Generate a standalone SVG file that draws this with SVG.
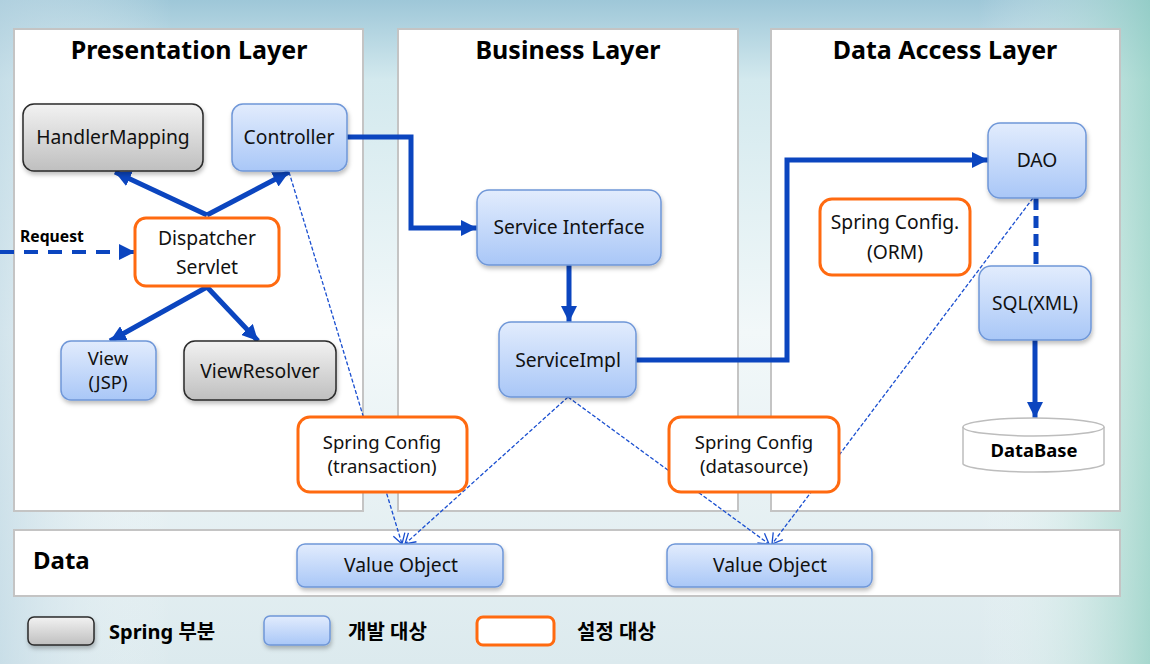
<svg xmlns="http://www.w3.org/2000/svg" width="1150" height="664" viewBox="0 0 1150 664">
<style>
.panel{fill:#fff;stroke:#c4c4c4;stroke-width:2}
.title{font-family:"Noto Sans","Open Sans",sans-serif;font-weight:bold;font-size:25px;fill:#000;text-anchor:middle}
.lbl{font-family:"Noto Sans","Open Sans","Noto Sans CJK KR",sans-serif;font-size:19.3px;fill:#111;text-anchor:middle}
.lbl2{font-family:"Noto Sans","Open Sans","Noto Sans CJK KR",sans-serif;font-size:18.5px;fill:#111;text-anchor:middle}
.blue{fill:url(#gBlue);stroke:#6f97d8;stroke-width:1.5}
.gray{fill:url(#gGray);stroke:#2a2a2a;stroke-width:1.5}
.cfg{fill:#fff;stroke:#ff6a10;stroke-width:3}
.thick{fill:none;stroke:#0b45bf;stroke-width:5}
.thin{fill:none;stroke:#1a4fd0;stroke-width:1.3;stroke-dasharray:4 2}
.bold{font-family:"Noto Sans","Noto Sans CJK KR",sans-serif;font-weight:bold;fill:#000}
</style>
<defs>
<linearGradient id="bg" x1="0" y1="0" x2="0" y2="1">
<stop offset="0" stop-color="#9ec7d8"/>
<stop offset="0.12" stop-color="#d3e9ee"/>
<stop offset="0.5" stop-color="#f2f8f9"/>
<stop offset="1" stop-color="#dceaee"/>
</linearGradient>
<linearGradient id="bgR" x1="0" y1="0" x2="1" y2="0">
<stop offset="0" stop-color="#bcd6e3" stop-opacity="0.6"/>
<stop offset="0.15" stop-color="#ffffff" stop-opacity="0"/>
<stop offset="0.85" stop-color="#ffffff" stop-opacity="0"/>
<stop offset="1" stop-color="#8fcfc0" stop-opacity="0.7"/>
</linearGradient>
<linearGradient id="gBlue" x1="0" y1="0" x2="0" y2="1">
<stop offset="0" stop-color="#e2ecfd"/>
<stop offset="1" stop-color="#a9c7f7"/>
</linearGradient>
<linearGradient id="gGray" x1="0" y1="0" x2="0" y2="1">
<stop offset="0" stop-color="#f2f2f2"/>
<stop offset="1" stop-color="#bfbfbf"/>
</linearGradient>
<filter id="sh" x="-10%" y="-10%" width="130%" height="140%">
<feDropShadow dx="1" dy="3" stdDeviation="2" flood-color="#000" flood-opacity="0.25"/>
</filter>
<marker id="ah" markerUnits="userSpaceOnUse" markerWidth="18" markerHeight="16" refX="16" refY="8" orient="auto">
<path d="M0,0 L16,8 L0,16 Z" fill="#0b45bf"/>
</marker>
<marker id="ov" markerUnits="userSpaceOnUse" markerWidth="14" markerHeight="14" refX="11" refY="7" orient="auto">
<path d="M1,1 L11,7 L1,13" fill="none" stroke="#1a4fd0" stroke-width="1.3"/>
</marker>
</defs>
<rect x="0" y="0" width="1150" height="664" fill="url(#bg)"/>
<rect x="0" y="0" width="1150" height="664" fill="url(#bgR)"/>

<g id="panels">
<rect class="panel" x="14" y="29" width="349" height="482"/>
<rect class="panel" x="398" y="29" width="340" height="482"/>
<rect class="panel" x="771" y="29" width="349" height="482"/>
<rect class="panel" x="14" y="530" width="1106" height="66"/>
<text class="title" x="189" y="59">Presentation Layer</text>
<text class="title" x="568" y="59">Business Layer</text>
<text class="title" x="945" y="59">Data Access Layer</text>
<text class="bold" x="33" y="569" font-size="24">Data</text>
</g>

<g id="connectors">
<path class="thick" d="M207,215 L115,172" marker-end="url(#ah)"/>
<path class="thick" d="M207,215 L289,172" marker-end="url(#ah)"/>
<path class="thick" d="M207,287 L110,341" marker-end="url(#ah)"/>
<path class="thick" d="M207,287 L258,341" marker-end="url(#ah)"/>
<path d="M0,252 L135,252" fill="none" stroke="#0b45bf" stroke-width="4" stroke-dasharray="14 10" marker-end="url(#ah)"/>
<path class="thick" d="M347,137 L411,137 L411,228 L477,228" marker-end="url(#ah)"/>
<path class="thick" d="M569,265 L569,322" marker-end="url(#ah)"/>
<path class="thick" d="M636,360 L787,360 L787,160 L988,160" marker-end="url(#ah)"/>
<path d="M1036,198 L1036,266" fill="none" stroke="#0b45bf" stroke-width="5" stroke-dasharray="12 6"/>
<path class="thick" d="M1035,340 L1035,418" marker-end="url(#ah)"/>
<path class="thin" d="M289,172 L402,544" marker-end="url(#ov)"/>
<path class="thin" d="M568,397 L405,544" marker-end="url(#ov)"/>
<path class="thin" d="M568,397 L769,544" marker-end="url(#ov)"/>
<path class="thin" d="M1033,198 L772,544" marker-end="url(#ov)"/>
<text class="bold" x="20" y="242" font-size="15.7">Request</text>
</g>

<g id="handlerMapping"><rect class="gray" filter="url(#sh)" x="23" y="104" width="180" height="67" rx="11"/><text class="lbl" x="113" y="144">HandlerMapping</text></g>
<g id="controller"><rect class="blue" filter="url(#sh)" x="232" y="104" width="115" height="67" rx="11"/><text class="lbl" x="289" y="144">Controller</text></g>
<g id="dispatcher"><rect class="cfg" x="135" y="218" width="144" height="68" rx="11"/><text class="lbl" x="207" y="245">Dispatcher</text><text class="lbl" x="207" y="274">Servlet</text></g>
<g id="view"><rect class="blue" filter="url(#sh)" x="61" y="341" width="95" height="59" rx="10"/><text class="lbl2" x="108" y="365">View</text><text class="lbl2" x="108" y="389">(JSP)</text></g>
<g id="viewResolver"><rect class="gray" filter="url(#sh)" x="184" y="341" width="152" height="59" rx="11"/><text class="lbl" x="260" y="378">ViewResolver</text></g>
<g id="cfgTx"><rect class="cfg" x="298" y="417" width="169" height="75" rx="12"/><text class="lbl2" x="382" y="449">Spring Config</text><text class="lbl2" x="382" y="473">(transaction)</text></g>
<g id="serviceInterface"><rect class="blue" filter="url(#sh)" x="477" y="190" width="184" height="75" rx="12"/><text class="lbl" x="569" y="234">Service Interface</text></g>
<g id="serviceImpl"><rect class="blue" filter="url(#sh)" x="499" y="322" width="137" height="75" rx="12"/><text class="lbl" x="568" y="367">ServiceImpl</text></g>
<g id="cfgDs"><rect class="cfg" x="669" y="417" width="170" height="75" rx="12"/><text class="lbl2" x="754" y="449">Spring Config</text><text class="lbl2" x="754" y="473">(datasource)</text></g>
<g id="dao"><rect class="blue" filter="url(#sh)" x="988" y="123" width="98" height="75" rx="12"/><text class="lbl" x="1037" y="167">DAO</text></g>
<g id="cfgOrm"><rect class="cfg" x="820" y="199" width="150" height="76" rx="12"/><text class="lbl" x="895" y="229">Spring Config.</text><text class="lbl" x="895" y="259">(ORM)</text></g>
<g id="sql"><rect class="blue" filter="url(#sh)" x="979" y="266" width="112" height="74" rx="12"/><text class="lbl" x="1035" y="310">SQL(XML)</text></g>
<g id="database">
<path d="M963,427 L963,464 A71,9 0 0 0 1104,464 L1104,427" fill="#fff" stroke="#bdbdbd" stroke-width="1.5"/>
<ellipse cx="1033.5" cy="427" rx="70.5" ry="9" fill="#fff" stroke="#bdbdbd" stroke-width="1.5"/>
<text class="bold" x="1034" y="457" font-size="18.4" text-anchor="middle">DataBase</text>
</g>
<g id="vo1"><rect class="blue" filter="url(#sh)" x="297" y="544" width="206" height="43" rx="8"/><text class="lbl" x="401" y="572">Value Object</text></g>
<g id="vo2"><rect class="blue" filter="url(#sh)" x="667" y="544" width="205" height="43" rx="8"/><text class="lbl" x="770" y="572">Value Object</text></g>

<g id="legend">
<rect class="gray" filter="url(#sh)" x="28" y="617" width="66" height="28" rx="6"/>
<text class="bold" x="109" y="639" font-size="20">Spring 부분</text>
<rect class="blue" filter="url(#sh)" x="264" y="616" width="66" height="29" rx="6"/>
<text class="bold" x="348" y="639" font-size="20">개발 대상</text>
<rect class="cfg" x="477" y="617" width="77" height="28" rx="6"/>
<text class="bold" x="577" y="639" font-size="20">설정 대상</text>
</g>
</svg>
